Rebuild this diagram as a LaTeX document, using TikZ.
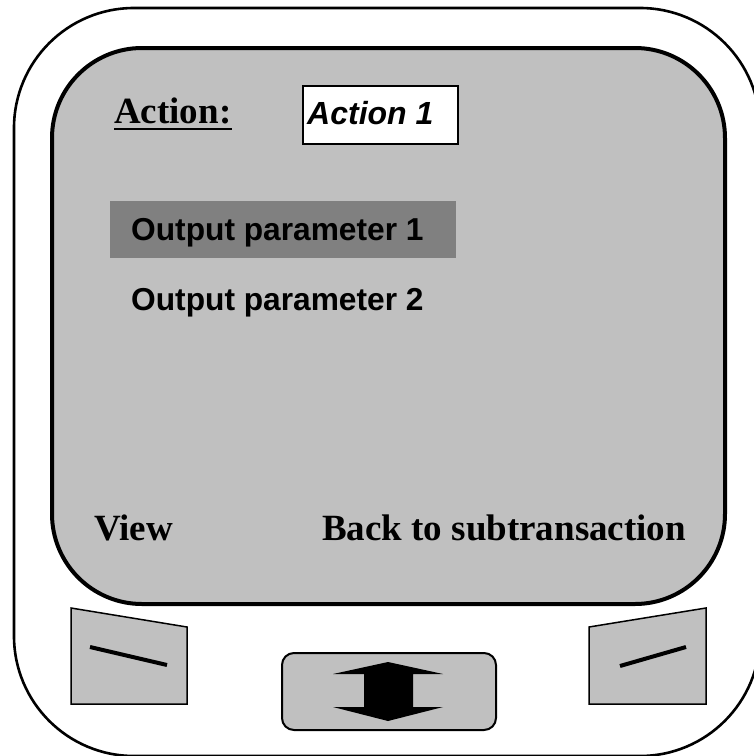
\documentclass[tikz,border=0pt]{standalone}
\usepackage{fontspec}
\setmainfont{Liberation Serif}
\newfontfamily\arialfont{Liberation Sans}
\definecolor{screengray}{RGB}{192,192,192}
\definecolor{hilitegray}{RGB}{128,128,128}
\tikzset{
  serifbold/.style={font=\bfseries\fontsize{37}{40}\selectfont, inner sep=0pt, anchor=base west},
  sansbold/.style={font=\arialfont\bfseries\fontsize{31.7}{34}\selectfont, inner sep=0pt, anchor=base west},
  softkey/.style={draw=black, fill=screengray, line width=1.5pt, line join=miter},
  keymark/.style={line width=4pt},
}
\begin{document}
\begin{tikzpicture}[x=1pt,y=-1pt]
\useasboundingbox (0,0) rectangle (754,756);

% device body
\draw[line width=2.6pt, rounded corners=120pt, fill=white] (14,8) rectangle (760,756);

% display
\draw[line width=4pt, fill=screengray, rounded corners=90pt] (52,48) rectangle (725,604);

% action header
\node[serifbold] (actlbl) at (114,123) {Action:};
\draw[line width=2.2pt] ([yshift=-6pt]actlbl.base west) -- ([yshift=-6pt]actlbl.base east);
\node[draw=black, fill=white, line width=1.5pt, minimum width=155pt, minimum height=58pt,
      anchor=north west, inner sep=0pt] (actbox) at (302,85) {};
\node[font=\arialfont\bfseries\itshape\fontsize{32}{35}\selectfont, inner sep=0pt, anchor=base west]
      (actval) at (307,124) {Action 1};

% parameter list with selection bar
\fill[hilitegray] (110,201) rectangle (456,258);
\node[sansbold] (par1) at (131,240) {Output parameter 1};
\node[sansbold] (par2) at (131,310) {Output parameter 2};

% soft key captions
\node[serifbold] (view) at (94,540) {View};
\node[serifbold] (back) at (322,540) {Back to subtransaction};

% left soft key
\draw[softkey] (71,608) -- (187,627) -- (187,704) -- (71,704) -- cycle;
\draw[keymark] (90,647) -- (167,665);

% right soft key
\draw[softkey] (589,627) -- (706,608) -- (706,704) -- (589,704) -- cycle;
\draw[keymark] (620,666) -- (686,647);

% scroll key
\draw[line width=2pt, fill=screengray, rounded corners=12pt] (282,653) rectangle (496,730);
\fill[black] (388,662) -- (443,674) -- (413,674) -- (413,707) -- (443,707) -- (388,721)
  -- (333,707) -- (364,707) -- (364,674) -- (333,674) -- cycle;
\end{tikzpicture}
\end{document}
